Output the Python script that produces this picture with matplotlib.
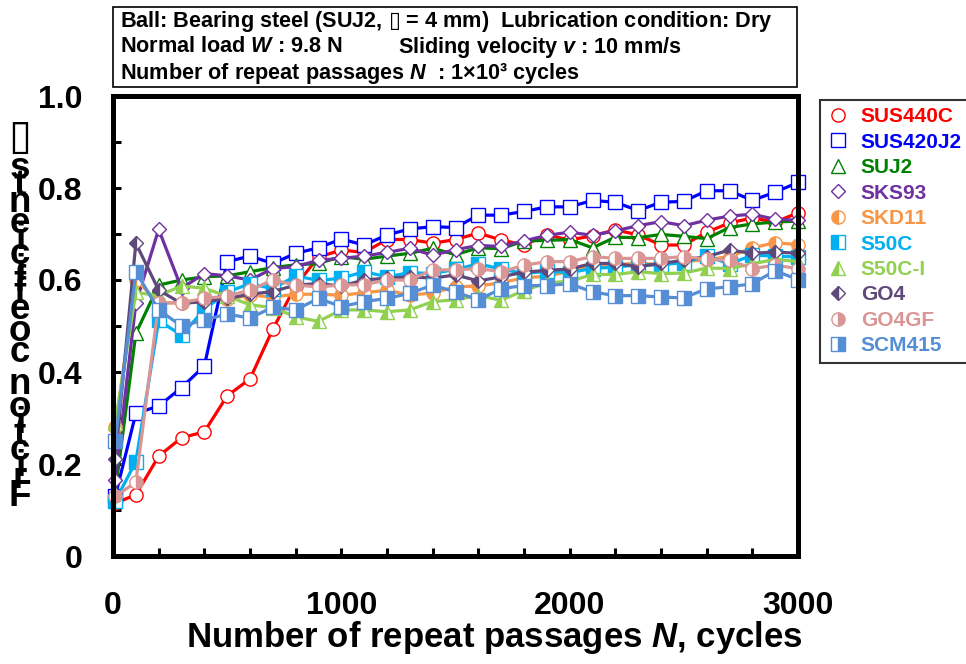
import matplotlib
matplotlib.use('Agg')
import matplotlib.pyplot as plt
from matplotlib.lines import Line2D
from matplotlib.patches import Rectangle
from matplotlib.ticker import MultipleLocator, FuncFormatter
from matplotlib.font_manager import FontProperties, findfont, get_font

# ---- data ----
cycles = [10, 100, 200, 300, 400, 500, 600, 700, 800, 900, 1000,
          1100, 1200, 1300, 1400, 1500, 1600, 1700, 1800, 1900, 2000,
          2100, 2200, 2300, 2400, 2500, 2600, 2700, 2800, 2900, 3000]

sus440c = [0.115, 0.133, 0.217, 0.257, 0.270, 0.348, 0.385, 0.493, 0.588, 0.650, 0.665,
           0.660, 0.688, 0.688, 0.680, 0.688, 0.702, 0.687, 0.676, 0.698, 0.687,
           0.696, 0.709, 0.698, 0.676, 0.676, 0.704, 0.724, 0.735, 0.726, 0.746]
sus420j2 = [0.130, 0.310, 0.326, 0.366, 0.413, 0.640, 0.652, 0.636, 0.658, 0.670, 0.689,
            0.676, 0.698, 0.711, 0.716, 0.714, 0.741, 0.741, 0.749, 0.759, 0.759,
            0.773, 0.769, 0.751, 0.769, 0.771, 0.794, 0.794, 0.773, 0.791, 0.812]
suj2 = [0.140, 0.484, 0.589, 0.600, 0.607, 0.609, 0.618, 0.627, 0.633, 0.636, 0.651,
        0.645, 0.652, 0.658, 0.669, 0.655, 0.670, 0.668, 0.685, 0.686, 0.688,
        0.670, 0.693, 0.692, 0.699, 0.695, 0.690, 0.714, 0.722, 0.726, 0.728]
sks93 = [0.165, 0.549, 0.710, 0.582, 0.614, 0.609, 0.600, 0.625, 0.629, 0.643, 0.647,
         0.652, 0.660, 0.669, 0.654, 0.666, 0.675, 0.673, 0.685, 0.697, 0.704,
         0.697, 0.707, 0.718, 0.727, 0.718, 0.730, 0.739, 0.743, 0.732, 0.730]
skd11 = [0.280, 0.601, 0.550, 0.550, 0.556, 0.558, 0.567, 0.563, 0.569, 0.569, 0.567,
         0.572, 0.578, 0.567, 0.572, 0.585, 0.587, 0.594, 0.605, 0.608, 0.619,
         0.630, 0.633, 0.637, 0.633, 0.640, 0.644, 0.651, 0.670, 0.681, 0.677]
s50c = [0.120, 0.205, 0.512, 0.480, 0.536, 0.574, 0.592, 0.581, 0.609, 0.599, 0.604,
        0.618, 0.607, 0.616, 0.614, 0.623, 0.635, 0.624, 0.614, 0.619, 0.616,
        0.625, 0.628, 0.633, 0.633, 0.638, 0.652, 0.635, 0.654, 0.652, 0.650]
s50c_i = [0.290, 0.573, 0.566, 0.587, 0.582, 0.565, 0.546, 0.540, 0.520, 0.510, 0.535,
          0.535, 0.531, 0.535, 0.553, 0.557, 0.566, 0.556, 0.577, 0.594, 0.597,
          0.612, 0.612, 0.618, 0.614, 0.615, 0.626, 0.625, 0.635, 0.645, 0.640]
go4 = [0.210, 0.680, 0.578, 0.549, 0.553, 0.560, 0.569, 0.575, 0.589, 0.592, 0.587,
       0.600, 0.604, 0.607, 0.604, 0.611, 0.598, 0.607, 0.617, 0.621, 0.624,
       0.636, 0.636, 0.629, 0.636, 0.643, 0.651, 0.665, 0.658, 0.661, 0.658]
go4gf = [0.130, 0.160, 0.550, 0.551, 0.560, 0.565, 0.578, 0.600, 0.589, 0.585, 0.589,
         0.590, 0.600, 0.600, 0.622, 0.622, 0.625, 0.618, 0.632, 0.640, 0.640,
         0.651, 0.647, 0.647, 0.647, 0.651, 0.645, 0.643, 0.625, 0.632, 0.625]
scm415 = [0.250, 0.618, 0.535, 0.500, 0.513, 0.526, 0.517, 0.541, 0.535, 0.560, 0.542,
          0.553, 0.560, 0.571, 0.589, 0.574, 0.557, 0.581, 0.588, 0.588, 0.592,
          0.574, 0.566, 0.566, 0.563, 0.561, 0.581, 0.585, 0.592, 0.620, 0.601]

names = ['SUS440C', 'SUS420J2', 'SUJ2', 'SKS93', 'SKD11',
         'S50C', 'S50C-I', 'GO4', 'GO4GF', 'SCM415']
series = [sus440c, sus420j2, suj2, sks93, skd11, s50c, s50c_i, go4, go4gf, scm415]
colors = ['#FF0000', '#0000FF', '#008000', '#7030A0', '#F79646',
          '#00B0F0', '#92D050', '#5F497A', '#D99694', '#558ED5']
markers = ['o', 's', '^', 'D', 'o', 's', '^', 'D', 'o', 's']
fills = ['open', 'open', 'open', 'open', 'left', 'left', 'left', 'left', 'right', 'right']
msizes = {'o': 9.5, 's': 9.5, '^': 10, 'D': 7}

# ---- fonts ----
plt.rcParams['font.family'] = ['Liberation Sans', 'DejaVu Sans']
plt.rcParams['font.weight'] = 'bold'
plt.rcParams['axes.labelweight'] = 'bold'
plt.rcParams['mathtext.fontset'] = 'custom'
plt.rcParams['mathtext.rm'] = 'Liberation Sans:bold'
plt.rcParams['mathtext.it'] = 'Liberation Sans:italic:bold'
plt.rcParams['mathtext.bf'] = 'Liberation Sans:bold'
plt.rcParams['mathtext.sf'] = 'DejaVu Sans:italic:bold'

W, H = 966, 664
fig = plt.figure(figsize=(W / 100, H / 100), dpi=100)
ax = fig.add_axes([113 / W, 108 / H, 685 / W, 460 / H])


def marker_style(color, marker, fill):
    st = dict(marker=marker, ms=msizes[marker], mec=color, mew=1.0)
    if fill == 'open':
        st.update(mfc='white', fillstyle='full')
    else:
        st.update(mfc=color, fillstyle=fill, markerfacecoloralt='white')
    return st


handles = []
for name, vals, c, m, f in zip(names, series, colors, markers, fills):
    st = marker_style(c, m, f)
    ax.plot(cycles, vals, color=c, lw=2.3, clip_on=False, **st)
    handles.append(Line2D([], [], ls='none', color=c, **st))

ax.set_xlim(0, 3000)
ax.set_ylim(0, 1.0)
ax.xaxis.set_major_locator(MultipleLocator(200))
ax.yaxis.set_major_locator(MultipleLocator(0.1))
ax.xaxis.set_major_formatter(FuncFormatter(lambda v, p: f'{v:.0f}' if round(v) % 1000 == 0 else ''))
ax.yaxis.set_major_formatter(FuncFormatter(
    lambda v, p: ('0' if abs(v) < 1e-9 else f'{v:.1f}') if round(v * 10) % 2 == 0 else ''))
ax.tick_params(direction='in', length=6, width=2.2, labelsize=23)
ax.tick_params(axis='y', pad=22)
ax.tick_params(axis='x', pad=25)
for sp in ax.spines.values():
    sp.set_linewidth(3.6)

# x label, a bit right of the axes centre as in the original
fig.text(186 / W, 1 - 638 / H, r'Number of repeat passages $\mathit{N}$, cycles',
         fontsize=25, fontweight='bold', ha='left', va='center')

# y label: characters standing upright, laid out along the axis
ylab = 'Friction coefficients'
fp = FontProperties(family='Liberation Sans', weight='bold', size=26.5)
font = get_font(findfont(fp))
font.set_size(26.5, 72)
adv = []
for ch in ylab:
    g = font.load_char(ord(ch))
    adv.append(g.linearHoriAdvance / 65536 * 100 / 72)
y0 = 497
pos = 0
for ch, a in zip(ylab, adv):
    yc = y0 - (pos + a / 2 - adv[0] / 2)
    if ch != ' ':
        fig.text(20 / W, 1 - yc / H, ch, fontproperties=fp, ha='center', va='center')
    pos += a
fig.text(20 / W, 1 - 137 / H, '\u25af', family='DejaVu Sans', style='italic',
         weight='bold', size=30, ha='center', va='center')

# header box
fig.add_artist(Rectangle((113 / W, 1 - 87 / H), 684 / W, 80 / H, transform=fig.transFigure,
                         fill=False, ec='black', lw=1.2))
fs = 15.6
fig.text(120 / W, 1 - 21 / H, 'Ball: Bearing steel (SUJ2, $\\mathsf{\u25af}$ = 4 mm)  Lubrication condition: Dry',
         fontsize=fs, va='center')
fig.text(120 / W, 1 - 47 / H, r'Normal load $\mathit{W}$ : 9.8 N', fontsize=fs, va='center')
fig.text(398 / W, 1 - 47 / H, r'Sliding velocity $\mathit{v}$ : 10 mm/s', fontsize=fs, va='center')
fig.text(120 / W, 1 - 73 / H, 'Number of repeat passages $\\mathit{N}$  : 1\u00d710\u00b3 cycles',
         fontsize=fs, va='center')

leg = ax.legend(handles, names, loc='upper left', bbox_to_anchor=(820 / W, 1 - 100 / H),
                bbox_transform=fig.transFigure, frameon=True, fancybox=False,
                edgecolor='black', borderaxespad=0, handlelength=1.0, handletextpad=0.6,
                labelspacing=0.31, borderpad=0.35, prop=dict(weight='bold', size=15),
                labelcolor='linecolor')
leg.get_frame().set_linewidth(1.5)

fig.savefig('out.png', dpi=100)
